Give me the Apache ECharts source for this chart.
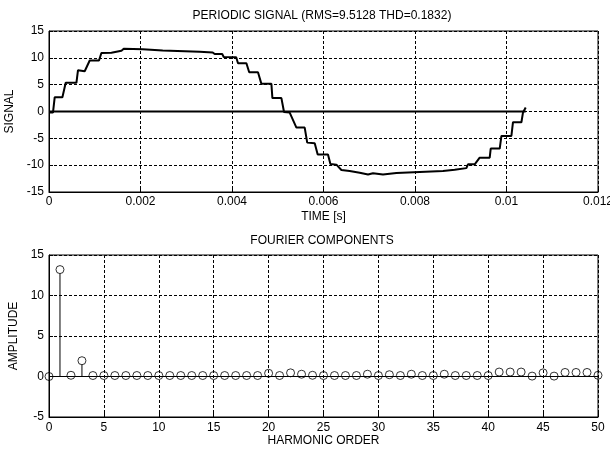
<!DOCTYPE html>
<html>
<head>
<meta charset="utf-8">
<script src="https://cdn.jsdelivr.net/npm/echarts@6/dist/echarts.min.js"></script>
<style>
html,body{margin:0;padding:0;background:#fff;}
#chart{width:610px;height:451px;}
</style>
</head>
<body>
<div id="chart"></div>
<script>
// ---- Top plot: periodic staircase signal ----
const signalTime = [0, 0.000087, 0.000125, 0.000293, 0.000365, 0.000599, 0.000634, 0.00078, 0.00089, 0.001093,
  0.001145, 0.001364, 0.001399, 0.001583, 0.001633, 0.001655, 0.001676, 0.002048, 0.002485, 0.003294,
  0.003578, 0.003622, 0.003786, 0.003819, 0.004092, 0.004131, 0.004315, 0.004376, 0.004568, 0.004643,
  0.004861, 0.004883, 0.00508, 0.005137, 0.005261, 0.005408, 0.005589, 0.005644, 0.005808, 0.005873,
  0.006098, 0.006151, 0.006282, 0.006391, 0.006572, 0.00661, 0.006791, 0.006828, 0.006973, 0.00701,
  0.007082, 0.007119, 0.0073, 0.007337, 0.007594, 0.007628, 0.008612, 0.008649, 0.008868, 0.008905,
  0.009123, 0.009158, 0.009305, 0.009414, 0.009633, 0.009655, 0.009852, 0.009889, 0.010107, 0.010142,
  0.010326, 0.01036, 0.01042];
const signalValue = [-0.2, -0.2, 2.66, 2.66, 5.35, 5.35, 7.7, 7.5, 9.5, 9.5,
  10.9, 10.95, 11.25, 11.3, 11.7, 11.85, 11.7, 11.6, 11.35, 11.15,
  11.0, 10.7, 10.7, 10.15, 10.1, 9.0, 9.0, 7.3, 7.3, 5.15,
  5.15, 2.5, 2.5, -0.1, -0.2, -3.0, -3.0, -5.8, -5.9, -8.0,
  -8.0, -9.8, -9.9, -10.9, -11.1, -11.35, -11.4, -11.75, -11.75, -11.5,
  -11.5, -11.7, -11.75, -11.5, -11.45, -11.2, -11.1, -10.95, -10.85, -10.6,
  -10.55, -9.85, -9.85, -8.6, -8.6, -6.9, -6.9, -4.55, -4.55, -2.0,
  -2.0, -0.2, 0.75];
const zeroLineTime = [0, 0.01042];
const timeTicks = { min: 0, max: 0.012, interval: 0.002 };
const signalTicks = { min: -15, max: 15, interval: 5 };

// ---- Bottom plot: Fourier components ----
const harmonicOrder = [0,1,2,3,4,5,6,7,8,9,10,11,12,13,14,15,16,17,18,19,20,21,22,23,24,25,
  26,27,28,29,30,31,32,33,34,35,36,37,38,39,40,41,42,43,44,45,46,47,48,49,50];
const harmonicAmplitude = [0, 13.2, 0.15, 1.95, 0.12, 0.12, 0.12, 0.12, 0.12, 0.12,
  0.12, 0.12, 0.12, 0.12, 0.12, 0.12, 0.12, 0.12, 0.12, 0.12,
  0.4, 0.12, 0.45, 0.28, 0.15, 0.12, 0.12, 0.12, 0.12, 0.28,
  0.12, 0.22, 0.12, 0.28, 0.12, 0.12, 0.28, 0.12, 0.12, 0.12,
  0.12, 0.55, 0.55, 0.55, 0.05, 0.45, 0.05, 0.5, 0.5, 0.5, 0.15];
const orderTicks = { min: 0, max: 50, interval: 5 };
const ampTicks = { min: -5, max: 15, interval: 5 };

const FONT = "'Liberation Sans', Arial, sans-serif";
const txt = { color: '#000', fontFamily: FONT, fontSize: 12 };

function valueAxis(ticks, extra) {
  return Object.assign({
    type: 'value', min: ticks.min, max: ticks.max, interval: ticks.interval,
    axisLine: { show: true, onZero: false, lineStyle: { color: '#000', width: 1 } },
    axisTick: { show: true, inside: true, length: 4, lineStyle: { color: '#000' } },
    splitLine: { show: true, lineStyle: { color: '#000', width: 1, type: [3, 2] } },
    axisLabel: Object.assign({}, txt),
    nameTextStyle: Object.assign({}, txt),
    nameLocation: 'middle'
  }, extra);
}

const chart = echarts.init(document.getElementById('chart'), null, { renderer: 'canvas' });
const option = {
  backgroundColor: '#fff',
  animation: false,
  title: [
    { text: 'PERIODIC SIGNAL (RMS=9.5128 THD=0.1832)', left: 322, top: 10, textAlign: 'center', padding: 0,
      textStyle: Object.assign({ fontWeight: 'normal' }, txt) },
    { text: 'FOURIER COMPONENTS', left: 322, top: 235, textAlign: 'center', padding: 0,
      textStyle: Object.assign({ fontWeight: 'normal' }, txt) }
  ],
  grid: [
    { left: 49, top: 31, width: 549, height: 161, show: true, borderColor: '#000', borderWidth: 1,
      backgroundColor: '#fff', containLabel: false, outerBoundsMode: 'none' },
    { left: 49, top: 255, width: 549, height: 162, show: true, borderColor: '#000', borderWidth: 1,
      backgroundColor: '#fff', containLabel: false, outerBoundsMode: 'none' }
  ],
  xAxis: [
    valueAxis(timeTicks, { gridIndex: 0, name: 'TIME [s]', nameGap: 19,
      axisLabel: Object.assign({}, txt, { margin: 4, showMaxLabel: true,
        formatter: v => String(parseFloat(v.toFixed(6))) }) }),
    valueAxis(orderTicks, { gridIndex: 1, name: 'HARMONIC ORDER', nameGap: 16,
      axisLabel: Object.assign({}, txt, { margin: 5 }) })
  ],
  yAxis: [
    valueAxis(signalTicks, { gridIndex: 0, name: 'SIGNAL', nameGap: 29,
      axisLabel: Object.assign({}, txt, { margin: 5 }) }),
    valueAxis(ampTicks, { gridIndex: 1, name: 'AMPLITUDE', nameGap: 25,
      axisLabel: Object.assign({}, txt, { margin: 5 }) })
  ],
  series: [
    { type: 'line', xAxisIndex: 0, yAxisIndex: 0, showSymbol: false, silent: true,
      data: zeroLineTime.map(t => [t, 0]),
      lineStyle: { color: '#000', width: 2 } },
    { type: 'line', xAxisIndex: 0, yAxisIndex: 0, showSymbol: false, silent: true,
      data: signalTime.map((t, i) => [t, signalValue[i]]),
      lineStyle: { color: '#000', width: 2 } },
    { type: 'line', xAxisIndex: 1, yAxisIndex: 1, showSymbol: false, silent: true,
      data: [[harmonicOrder[0], 0], [harmonicOrder[harmonicOrder.length - 1], 0]],
      lineStyle: { color: '#000', width: 1 } },
    { type: 'custom', xAxisIndex: 1, yAxisIndex: 1, silent: true,
      data: harmonicOrder.map((n, i) => [n, harmonicAmplitude[i]]),
      renderItem: function (params, api) {
        const base = api.coord([api.value(0), 0]);
        const top = api.coord([api.value(0), api.value(1)]);
        const r = 4;
        if (base[1] - top[1] <= r) return null;
        return { type: 'line', shape: { x1: base[0], y1: base[1], x2: top[0], y2: top[1] + r },
          style: { stroke: '#000', lineWidth: 1 } };
      } },
    { type: 'scatter', xAxisIndex: 1, yAxisIndex: 1, silent: true, symbol: 'circle', symbolSize: 8,
      data: harmonicOrder.map((n, i) => [n, harmonicAmplitude[i]]),
      itemStyle: { color: 'rgba(0,0,0,0)', borderColor: '#000', borderWidth: 1 } }
  ]
};
chart.setOption(option);
</script>
</body>
</html>
